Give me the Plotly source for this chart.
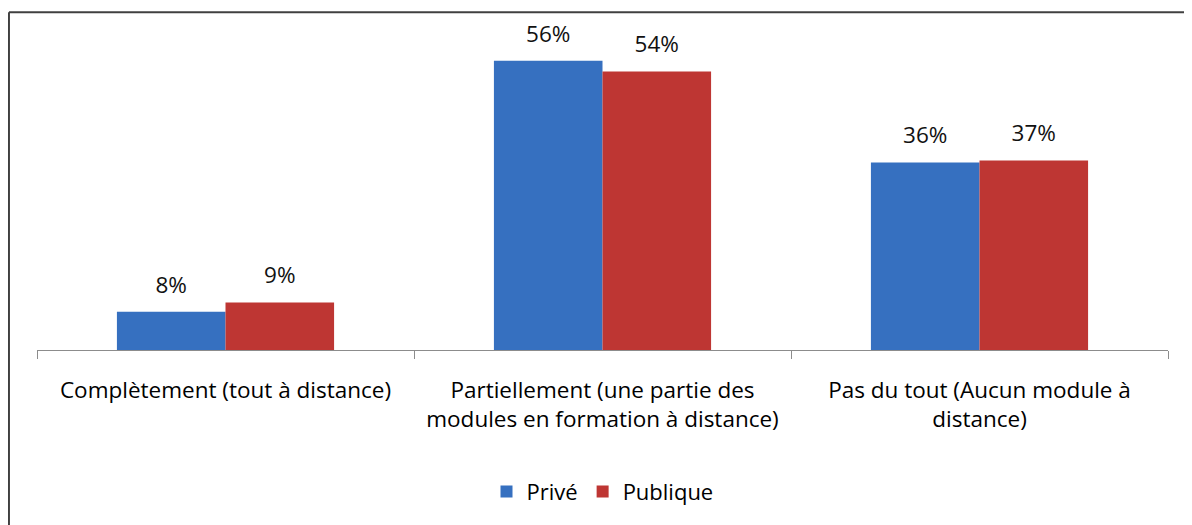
import plotly.graph_objects as go

categories = [
    "Complètement (tout à distance)",
    "Partiellement (une partie des<br>modules en formation à distance)",
    "Pas du tout (Aucun module à<br>distance)",
]
prive = [7.4, 56.0, 36.3]
publique = [9.2, 53.9, 36.7]
prive_labels = ["8%", "56%", "36%"]
publique_labels = ["9%", "54%", "37%"]

FONT = "'Open Sans', Lato, sans-serif"
BLUE = "#3670C0"
RED = "#BE3633"

fig = go.Figure()

for name, vals, color in [("Privé", prive, BLUE), ("Publique", publique, RED)]:
    fig.add_trace(go.Bar(
        x=categories, y=vals, name=name,
        marker=dict(color=color, line=dict(width=0)),
        offsetgroup=name,
    ))

# value labels, lifted above the bars with an invisible marker
for name, vals, labels in [("Privé", prive, prive_labels), ("Publique", publique, publique_labels)]:
    fig.add_trace(go.Scatter(
        x=categories, y=vals, text=labels, mode="markers+text",
        textposition="top center",
        marker=dict(size=20, opacity=0),
        textfont=dict(family=FONT, size=22.5, color="#111111"),
        offsetgroup=name, showlegend=False, hoverinfo="skip",
        cliponaxis=False,
    ))

# the page adds an 8px body margin, so the margins below are shifted by 8px
fig.update_layout(
    width=1192, height=525,
    margin=dict(l=29, r=32, t=31.5, b=183),
    paper_bgcolor="white", plot_bgcolor="white",
    barmode="group", scattermode="group",
    bargap=0.424, bargroupgap=0,
    font=dict(family=FONT, size=22.5, color="#000000"),
    showlegend=True,
    legend=dict(
        orientation="h", x=0.5, xanchor="center", y=-0.457, yanchor="middle",
        font=dict(family=FONT, size=22, color="#000000"),
        itemwidth=30, tracegroupgap=0,
    ),
    shapes=[
        dict(type="line", xref="paper", yref="paper",
             x0=-0.0248, x1=1.1, y0=1.0892, y1=1.0892,
             line=dict(color="#404040", width=2)),
        dict(type="line", xref="paper", yref="paper",
             x0=-0.0248, x1=-0.0248, y0=1.0892, y1=-1,
             line=dict(color="#404040", width=2)),
    ],
)

fig.update_xaxes(
    showline=True, linecolor="#8c8c8c", linewidth=1,
    ticks="outside", tickson="boundaries", ticklen=8, tickcolor="#8c8c8c",
    showgrid=False, ticklabelstandoff=20,
    tickfont=dict(family=FONT, size=22.5, color="#000000"),
)
fig.update_yaxes(range=[0, 60], visible=False, showgrid=False)

fig.write_html("out.html")
